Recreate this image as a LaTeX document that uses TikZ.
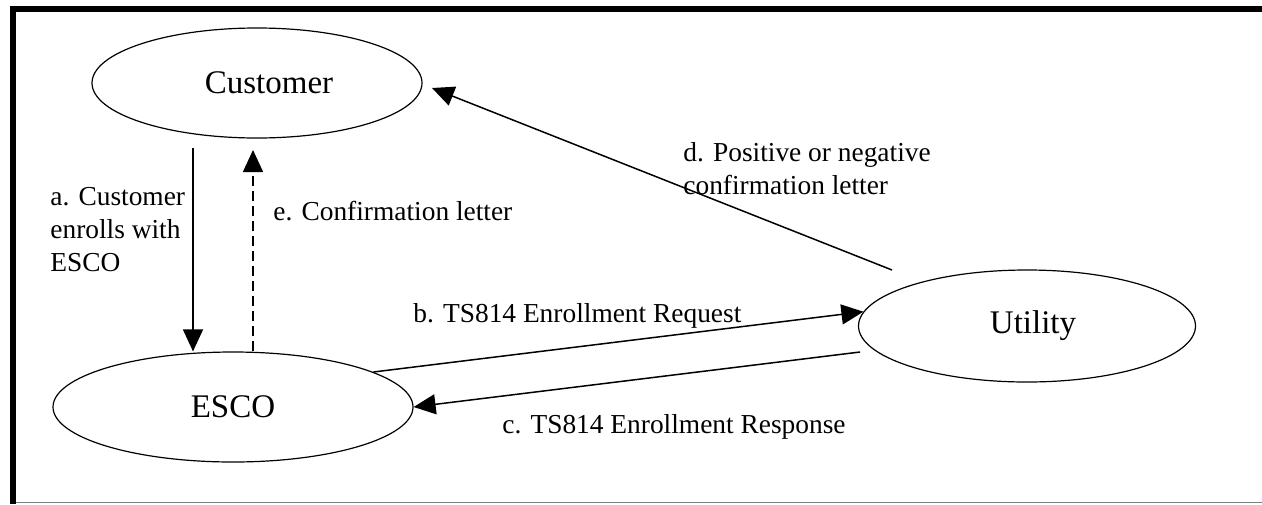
\documentclass[tikz,border=0pt]{standalone}
\usepackage{fontspec}
\setmainfont{Liberation Serif}
\usetikzlibrary{arrows.meta,calc,shapes.geometric}
\begin{document}
\begin{tikzpicture}[x=0.5pt,y=-0.5pt,
  ent/.style={draw, ellipse, line width=0.6pt, inner sep=0pt,
    font=\fontsize{16.5}{20}\selectfont},
  lbl/.style={font=\fontsize{13.7}{16.5}\selectfont, align=left, inner sep=0pt},
  conn/.style={line width=0.75pt, -{Triangle[length=11pt,width=10pt]}},
  dashconn/.style={conn, dash pattern=on 5pt off 2.5pt}]
\useasboundingbox (0,0) rectangle (1262,504);
% frame
\draw[line width=3pt] (13,504) -- (13,9) -- (1262,9);
\draw[line width=0.5pt, gray] (16,502.5) -- (1262,502.5);
% entities
\node[ent, minimum width=165pt, minimum height=55pt] (cust) at (257,83) {\hspace*{12pt}\raisebox{-2.5pt}{Customer}};
\node[ent, minimum width=180pt, minimum height=55pt] (esco) at (233,407) {\raisebox{-1pt}{ESCO}};
\node[ent, minimum width=168.5pt, minimum height=56pt] (util) at (1027,326) {\hspace*{6pt}\raisebox{-1.5pt}{Utility}};
% connector end points
\coordinate (a1) at ($(cust.center)+(-64,65)$);
\coordinate (e1) at ($(cust.center)+(-4,67)$);
\coordinate (c1) at ($(util.center)+(-167,26)$);
\coordinate (d1) at ($(util.center)+(-135,-56)$);
\coordinate (d2) at ($(cust.center)+(175,5)$);
% connectors
\draw[conn] (a1) -- (a1 |- esco.north);
\draw[dashconn] (e1 |- esco.north) -- (e1);
\draw[conn] (esco.14) -- (util.175);
\draw[conn] (c1) -- (esco.east);
\draw[conn] (d1) -- (d2);
% labels
\node[lbl, anchor=north west] (la) at (50,187) {a. Customer\\enrolls with\\ESCO};
\node[lbl, anchor=base west] (le) at (273,220) {e. Confirmation letter};
\node[lbl, anchor=base west] (lb) at (413,322) {b. TS814 Enrollment Request};
\node[lbl, anchor=base west] (lc) at (502,433) {c. TS814 Enrollment Response};
\node[lbl, anchor=north west] (ld) at (683,142) {d. Positive or negative\\confirmation letter};
\end{tikzpicture}
\end{document}
